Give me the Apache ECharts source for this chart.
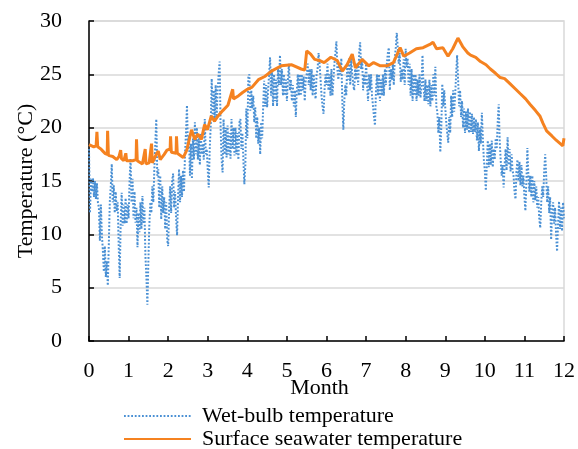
<!DOCTYPE html>
<html lang="en">
<head>
	<meta charset="UTF-8">
	<title>Temperature by month</title>
	<script src="https://cdn.jsdelivr.net/npm/echarts@6/dist/echarts.min.js"></script>
	<style>
		html,body{margin:0;padding:0;width:100%;height:100%;background:#fff;}
		#chart{width:578px;height:449px;}
	</style>
</head>
<body>
	<div id="chart"></div>
</body>
<script>
	// wet-bulb temperature, one reading every 0.025 month (0 .. 12), 20 per half month
	var wetValues = [
		18.0, 12.0, 15.2, 14.0, 15.3, 13.5, 15.0, 13.3, 14.8, 13.0, 12.5, 9.4, 12.8, 10.0, 8.5, 6.5, 8.9, 6.0, 7.5, 5.2,
		9.0, 13.0, 14.5, 16.6, 13.0, 14.6, 12.0, 14.0, 12.2, 13.0, 9.0, 5.9, 11.0, 13.9, 10.8, 12.8, 11.0, 13.4, 11.0, 12.8,
		11.5, 15.0, 17.1, 13.0, 15.2, 11.5, 14.0, 11.1, 12.5, 8.8, 12.0, 10.2, 13.0, 10.5, 13.6, 11.0, 12.5, 8.0, 6.0, 3.4,
		7.5, 11.0, 13.0, 12.0, 14.5, 13.0, 16.0, 18.5, 20.8, 15.5, 16.1, 12.5, 15.5, 11.4, 14.5, 12.0, 13.5, 10.5, 13.0, 9.5,
		8.9, 12.5, 14.5, 12.0, 15.0, 15.7, 12.5, 14.0, 11.5, 9.9, 13.5, 16.1, 13.0, 15.5, 13.5, 16.0, 14.0, 17.5, 19.5, 22.1,
		18.0, 19.3, 15.5, 18.5, 15.2, 19.0, 17.0, 20.5, 17.5, 20.0, 17.0, 19.0, 16.5, 19.5, 17.5, 18.5, 17.0, 20.8, 17.5, 18.0,
		16.0, 14.4, 18.0, 20.2, 24.6, 21.0, 23.5, 20.5, 24.0, 21.0, 23.5, 25.0, 26.2, 20.0, 17.0, 15.8, 20.8, 17.5, 20.0, 17.2,
		20.2, 17.5, 19.5, 17.1, 20.8, 18.0, 20.0, 17.4, 20.0, 17.5, 19.5, 17.0, 20.5, 20.8, 18.0, 19.5, 17.0, 14.7, 16.5, 21.8,
		19.0, 24.7, 25.0, 21.6, 23.5, 21.8, 23.0, 20.5, 21.9, 19.0, 21.0, 18.5, 20.0, 17.5, 20.5, 19.0, 22.0, 24.4, 22.0, 24.0,
		21.9, 23.5, 25.0, 26.6, 23.0, 25.5, 22.0, 25.0, 22.5, 24.5, 22.0, 25.5, 24.0, 26.8, 24.0, 25.5, 23.0, 25.0, 23.0, 24.5,
		22.5, 24.5, 26.0, 23.5, 24.5, 22.5, 24.0, 22.0, 23.5, 21.0, 23.5, 25.0, 23.0, 25.0, 23.0, 25.0, 23.5, 24.8, 22.5, 24.5,
		25.0, 26.0, 24.0, 25.5, 23.5, 25.5, 23.0, 25.0, 23.5, 22.7, 25.0, 25.5, 27.0, 26.0, 24.5, 23.0, 22.0, 21.3, 23.5, 25.0,
		24.0, 26.0, 23.5, 25.0, 23.0, 25.5, 23.0, 24.5, 26.0, 27.0, 28.1, 25.5, 24.5, 26.0, 25.0, 26.5, 22.5, 19.8, 22.5, 24.0,
		23.0, 26.0, 24.5, 26.5, 24.0, 26.5, 25.0, 24.0, 23.5, 25.5, 24.5, 26.0, 24.0, 27.0, 28.0, 25.5, 26.5, 23.5, 25.0, 24.0,
		26.0, 24.0, 22.5, 25.0, 23.5, 25.0, 23.0, 22.0, 21.0, 20.2, 23.5, 25.0, 23.0, 25.0, 22.5, 24.5, 23.0, 25.0, 23.0, 25.5,
		24.0, 26.0, 27.0, 27.5, 23.5, 25.5, 24.5, 26.0, 24.0, 26.5, 27.5, 28.9, 27.5, 26.0, 27.0, 24.3, 25.5, 24.5, 26.4, 24.0,
		27.4, 25.7, 26.5, 24.0, 26.0, 23.0, 25.5, 22.5, 25.0, 23.0, 25.0, 22.5, 24.5, 23.0, 25.0, 22.8, 24.0, 26.8, 24.0, 22.5,
		24.5, 22.5, 24.0, 22.2, 24.5, 22.0, 24.0, 22.5, 25.0, 23.0, 25.7, 22.0, 21.5, 19.5, 21.0, 17.7, 20.0, 24.1, 22.0, 23.5,
		21.9, 20.5, 19.5, 18.6, 21.0, 19.5, 23.0, 21.0, 23.5, 21.5, 23.0, 25.0, 26.8, 24.5, 22.0, 23.5, 21.0, 22.5, 20.0, 21.8,
		19.5, 21.5, 19.8, 21.8, 19.5, 21.5, 19.6, 21.3, 19.4, 21.0, 19.6, 20.8, 18.8, 20.5, 17.8, 20.0, 18.5, 21.4, 19.0, 17.0,
		16.0, 14.1, 16.5, 18.8, 16.3, 18.5, 16.5, 18.8, 16.3, 18.0, 17.0, 19.0, 18.0, 20.5, 22.2, 18.8, 17.0, 15.5, 16.5, 14.4,
		16.5, 18.0, 16.0, 19.1, 16.5, 18.0, 15.9, 17.5, 16.0, 15.5, 14.0, 13.3, 16.0, 17.0, 15.0, 16.8, 14.6, 16.5, 14.5, 15.5,
		13.5, 12.2, 15.0, 18.1, 15.5, 14.0, 15.5, 13.5, 15.5, 13.0, 15.0, 13.2, 14.5, 12.5, 13.5, 11.5, 10.6, 13.0, 14.5, 13.5,
		16.0, 17.5, 15.5, 13.0, 14.5, 12.0, 13.5, 9.5, 12.0, 13.0, 11.0, 12.5, 10.0, 8.4, 11.0, 13.1, 10.5, 12.5, 10.3, 13.0,
		11.5
	];

	// surface seawater temperature
	var seaMonths = [
		0.00, 0.05, 0.12, 0.18, 0.20, 0.22, 0.30, 0.35, 0.40, 0.46,
		0.47, 0.49, 0.60, 0.70, 0.76, 0.80, 0.82, 0.88, 0.93, 0.95,
		1.00, 1.10, 1.19, 1.20, 1.22, 1.35, 1.42, 1.44, 1.52, 1.58,
		1.60, 1.70, 1.75, 1.80, 1.90, 1.97, 2.05, 2.06, 2.08, 2.20,
		2.21, 2.23, 2.38, 2.47, 2.59, 2.67, 2.75, 2.84, 2.92, 2.99,
		3.09, 3.17, 3.26, 3.38, 3.51, 3.63, 3.65, 3.78, 3.88, 4.00,
		4.12, 4.28, 4.44, 4.61, 4.86, 5.11, 5.36, 5.45, 5.50, 5.60,
		5.70, 5.82, 5.94, 6.11, 6.27, 6.40, 6.52, 6.65, 6.73, 6.90,
		7.07, 7.19, 7.36, 7.53, 7.69, 7.86, 7.95, 8.10, 8.27, 8.44,
		8.61, 8.69, 8.78, 8.94, 9.07, 9.19, 9.32, 9.44, 9.57, 9.64,
		9.77, 9.89, 10.03, 10.14, 10.27, 10.39, 10.50, 10.64, 10.78, 10.89,
		11.03, 11.14, 11.28, 11.39, 11.47, 11.56, 11.70, 11.81, 11.97, 12.00
	];
	var seaValues = [
		18.4, 18.5, 18.2, 18.3, 19.6, 18.2, 18.0, 17.8, 17.6, 17.5,
		19.7, 17.4, 17.3, 17.0, 17.3, 17.9, 17.1, 16.9, 17.6, 16.9,
		16.8, 16.9, 17.0, 18.9, 16.9, 16.6, 18.0, 16.6, 16.7, 18.5,
		16.7, 17.5, 17.8, 17.0, 17.5, 17.9, 18.0, 19.2, 17.7, 17.6,
		19.2, 17.6, 17.2, 17.9, 19.8, 18.9, 19.4, 18.9, 20.3, 19.8,
		21.1, 20.6, 21.1, 21.6, 22.1, 23.6, 22.7, 23.0, 23.3, 23.6,
		23.8, 24.5, 24.8, 25.3, 25.8, 25.9, 25.5, 25.4, 27.2, 26.9,
		26.4, 26.3, 26.1, 26.6, 26.3, 25.3, 25.9, 26.9, 25.6, 26.4,
		25.8, 26.1, 25.8, 25.8, 26.1, 27.5, 26.7, 27.0, 27.4, 27.5,
		27.8, 28.0, 27.4, 27.5, 26.7, 27.4, 28.4, 27.6, 27.0, 26.8,
		26.6, 26.2, 25.9, 25.5, 25.1, 24.7, 24.6, 24.1, 23.6, 23.2,
		22.7, 22.2, 21.6, 21.1, 20.4, 19.7, 19.2, 18.8, 18.3, 19.0
	];

	var monthTicks = [0, 12, 1];
	var tempTicks = [0, 30, 5];

	var myChart = echarts.init(document.getElementById('chart'));

	var wetData = wetValues.map(function (v, i) { return [i / 40, v]; });
	var seaData = seaValues.map(function (v, i) { return [seaMonths[i], v]; });

	var font = 'Liberation Serif';
	var blue = '#4a90d4';
	var orange = '#f58220';

	function legendRow(name, top) {
		return {
			orient: 'vertical',
			left: 123,
			top: top,
			padding: 0,
			itemWidth: 67,
			itemHeight: 10,
			itemStyle: {opacity: 0},
			textStyle: {fontFamily: font, fontSize: 22, color: '#000', padding: [0, 0, 0, 6]},
			data: [name]
		};
	}

	var options = {
		animation: false,
		textStyle: {fontFamily: font},
		grid: {
			left: 89, right: 9, top: 21, bottom: 108,
			show: true, borderColor: '#d9d9d9', borderWidth: 1.5
		},
		legend: [
			legendRow('Wet-bulb temperature', 405),
			legendRow('Surface seawater temperature', 428)
		],
		xAxis: {
			type: 'value',
			min: monthTicks[0], max: monthTicks[1], interval: monthTicks[2],
			name: 'Month',
			nameLocation: 'middle',
			nameGap: 36,
			nameMoveOverlap: false,
			nameTextStyle: {fontFamily: font, fontSize: 22, color: '#000', padding: [0, 14, 0, 0]},
			axisLine: {lineStyle: {color: '#000', width: 1.5}},
			axisTick: {inside: true, length: 5, lineStyle: {color: '#000', width: 1.5}},
			axisLabel: {fontFamily: font, fontSize: 22, color: '#000', margin: 19},
			splitLine: {show: false}
		},
		yAxis: {
			type: 'value',
			min: tempTicks[0], max: tempTicks[1], interval: tempTicks[2],
			name: 'Temperature (°C)',
			nameLocation: 'middle',
			nameGap: 52,
			nameMoveOverlap: false,
			nameTextStyle: {fontFamily: font, fontSize: 22, color: '#000'},
			axisLine: {show: true, lineStyle: {color: '#000', width: 1.5}},
			axisTick: {show: true, inside: true, length: 5, lineStyle: {color: '#000', width: 1.5}},
			axisLabel: {fontFamily: font, fontSize: 22, color: '#000', margin: 27},
			splitLine: {lineStyle: {color: '#d9d9d9', width: 1.5}}
		},
		series: [
			{
				name: 'Wet-bulb temperature',
				type: 'line',
				data: wetData,
				symbol: 'none',
				lineStyle: {color: blue, width: 2, type: [1.8, 1.8]},
				itemStyle: {color: blue},
				z: 2
			},
			{
				name: 'Surface seawater temperature',
				type: 'line',
				data: seaData,
				symbol: 'none',
				lineStyle: {color: orange, width: 3},
				itemStyle: {color: orange},
				z: 3
			}
		]
	};
	myChart.setOption(options);
</script>
</html>
